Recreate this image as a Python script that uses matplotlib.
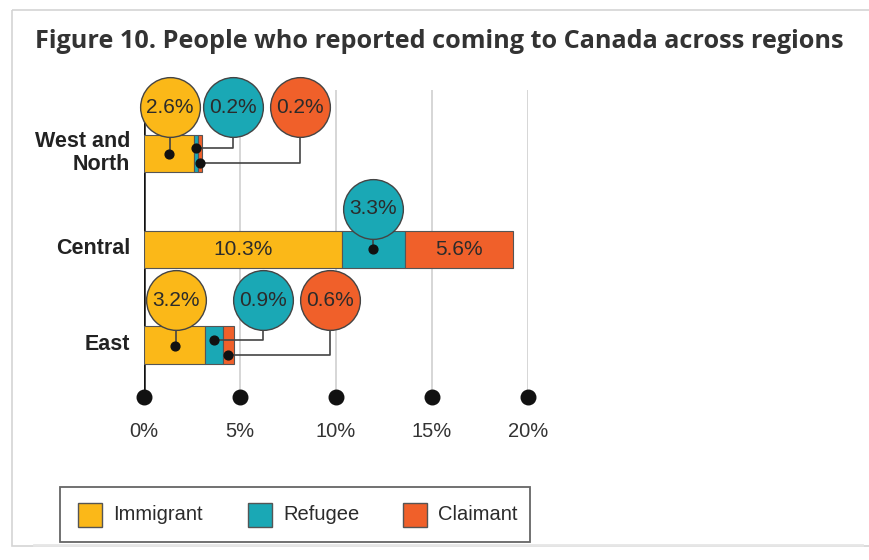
import numpy as np
import matplotlib.pyplot as plt
from matplotlib.patches import Rectangle

# share of people who reported coming to Canada, by region (%)
regions = ["West and\nNorth", "Central", "East"]
immigrant = [2.6, 10.3, 3.2]
refugee = [0.2, 3.3, 0.9]
claimant = [0.2, 5.6, 0.6]
series_names = ["Immigrant", "Refugee", "Claimant"]
colors = ["#FBB818", "#1AA8B5", "#F0602A"]
xticks = [0, 5, 10, 15, 20]

narrow = ["Liberation Sans", "DejaVu Sans"]
ink = "#2b2b2b"

W, H = 870, 560
fig = plt.figure(figsize=(W / 100, H / 100), dpi=100)
fig.patch.set_facecolor("white")

# card outline behind everything
bg = fig.add_axes([0, 0, 1, 1])
bg.set_xlim(0, W)
bg.set_ylim(H, 0)
bg.axis("off")
bg.add_patch(Rectangle((12, 10), W, 536, fill=False, ec="#d4d4d4", lw=1.2))
bg.plot([34, 862], [545, 545], color="#e6e6e6", lw=2)

fig.text(35 / W, 1 - 42 / H, "Figure 10. People who reported coming to Canada across regions",
         fontsize=18.2, fontweight="bold", family="Open Sans", color="#333333",
         va="center", ha="left")

# plot area: x 0..20 % -> px 144..528, y rows at 153/248/345 px
ax = fig.add_axes([144 / W, 1 - 397 / H, 384 / W, 307 / H])
ax.set_xlim(0, 20)
ax.set_ylim(-0.54, 2.66)
ax.axis("off")

ypos = np.array([2, 1, 0])
bar_h = 0.39

for xv in xticks[1:]:
    ax.plot([xv, xv], [-0.54, 2.66], color="#cfcfcf", lw=1.2, zorder=0)
ax.plot([0, 0], [-0.54, 2.4], color="#111111", lw=1.8, zorder=1)
ax.scatter(xticks, [-0.54] * len(xticks), s=110, color="#111111", zorder=5, clip_on=False)
for xv in xticks:
    ax.text(xv, -0.9, f"{xv}%", ha="center", va="center", fontsize=14.5,
            family=narrow, color="#333333")

left = np.zeros(3)
for vals, col in zip([immigrant, refugee, claimant], colors):
    ax.barh(ypos, vals, left=left, height=bar_h, color=col, edgecolor="#555555",
            lw=0.8, zorder=2)
    left += np.array(vals)

for i, name in enumerate(regions):
    fig.text(130 / W, 1 - [153, 248, 345][i] / H, name, ha="right", va="center",
             fontsize=15.5, fontweight="bold", family=narrow, color="#222222",
             linespacing=1.1)


def bubble(x, y, dx_dot, dy_dot, cx, cy, text, col):
    # dot on the segment, elbow leader, then the labelled circle
    dot_x = x + dx_dot
    dot_y = y + dy_dot
    ax.plot([dot_x, cx, cx], [dot_y, dot_y, cy], color="#444444", lw=1.2, zorder=3)
    ax.scatter([dot_x], [dot_y], s=40, color="#111111", zorder=4)
    ax.scatter([cx], [cy], s=1850, color=col, edgecolor="#444444", lw=1.0, zorder=6,
               clip_on=False)
    ax.text(cx, cy, text, ha="center", va="center", fontsize=15, family=narrow,
            color=ink, zorder=7)


# West and North
r = 0
bubble(immigrant[r] / 2, ypos[r], 0, -0.01, 1.35, 2.48, f"{immigrant[r]}%", colors[0])
bubble(immigrant[r] + refugee[r] / 2, ypos[r], 0, 0.06, 4.64, 2.48, f"{refugee[r]}%", colors[1])
bubble(immigrant[r] + refugee[r] + claimant[r] / 2, ypos[r], 0, -0.1, 8.1, 2.48,
       f"{claimant[r]}%", colors[2])

# Central
r = 1
ax.text(immigrant[r] / 2, ypos[r], f"{immigrant[r]}%", ha="center", va="center",
        fontsize=15, family=narrow, color=ink, zorder=7)
mid = immigrant[r] + refugee[r] / 2
bubble(mid, ypos[r], 0, 0, mid, 1.42, f"{refugee[r]}%", colors[1])
ax.text(immigrant[r] + refugee[r] + claimant[r] / 2, ypos[r], f"{claimant[r]}%",
        ha="center", va="center", fontsize=15, family=narrow, color=ink, zorder=7)

# East
r = 2
bubble(immigrant[r] / 2, ypos[r], 0, -0.01, 1.67, 0.47, f"{immigrant[r]}%", colors[0])
bubble(immigrant[r] + refugee[r] / 2, ypos[r], 0, 0.05, 6.2, 0.47, f"{refugee[r]}%", colors[1])
bubble(immigrant[r] + refugee[r] + claimant[r] / 2, ypos[r], 0, -0.1, 9.7, 0.47,
       f"{claimant[r]}%", colors[2])

# legend box
bg.add_patch(Rectangle((60, 487), 470, 55, fill=False, ec="#666666", lw=1.3))
for name, col, sx in zip(series_names, colors, [78, 248, 403]):
    bg.add_patch(Rectangle((sx, 503), 24, 24, fc=col, ec="#555555", lw=1.0))
    bg.text(sx + 35, 515, name, ha="left", va="center", fontsize=14.5, family=narrow,
            color=ink)

fig.savefig("out.png", dpi=100)
